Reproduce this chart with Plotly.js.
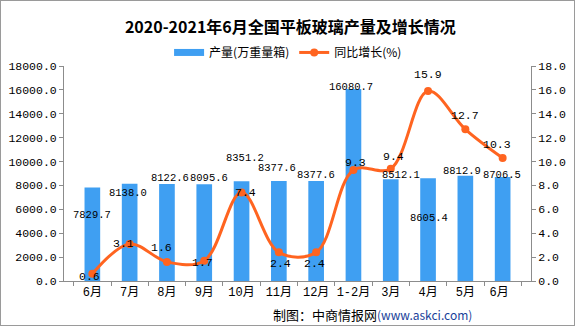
<!DOCTYPE html>
<html>
<head>
<meta charset="utf-8">
<script src="https://cdn.plot.ly/plotly-3.0.1.min.js"></script>
<style>
html,body{margin:0;padding:0;background:#fff;}
#wrap{position:relative;width:575px;height:326px;}
#chart{width:575px;height:326px;}
#frame{position:absolute;left:0;top:0;width:575px;height:326px;box-sizing:border-box;border:1px solid #9a9a9a;pointer-events:none;}
</style>
</head>
<body>
<div id="wrap"><div id="chart"></div><div id="frame"></div></div>
<script>
// ---- data ----
const categories = ["6月","7月","8月","9月","10月","11月","12月","1-2月","3月","4月","5月","6月 "];
const output = [7829.7, 8138.0, 8122.6, 8095.6, 8351.2, 8377.6, 8377.6, 16080.7, 8512.1, 8605.4, 8812.9, 8706.5];
const growth = [0.6, 3.1, 1.6, 1.7, 7.4, 2.4, 2.4, 9.3, 9.4, 15.9, 12.7, 10.3];
const seriesNames = ["产量(万重量箱)", "同比增长(%)"];
const leftTicks = [0,2000,4000,6000,8000,10000,12000,14000,16000,18000];
const rightTicks = [0,2,4,6,8,10,12,14,16,18];

// ---- label offsets (style only, px) ----
const barLblDx = [0,-2,3,5,3,-2,0,-2,10,1,-3,-1];
const barLblDy = [-28,-9,6,6,23,13,6,2,4,-40,5,2];
const lineLblDx = [-3,-6,-5,-2,4,2,-2,2,3,0,0,-6];
const lineLblDy = [-3,0,14,-2,0,-11,-11,7,12,17,14,13];

const blue = "#3f9ff2";
const orange = "#ff6420";
const monoFont = "Liberation Mono, DejaVu Sans Mono, monospace";

const traces = [
  {type:"bar", x:categories, y:output, name:seriesNames[0], marker:{color:blue}, showlegend:false, hoverinfo:"none"},
  {type:"scatter", mode:"lines", x:[null], y:[null], name:seriesNames[0], line:{color:blue, width:7}, showlegend:true, hoverinfo:"none"},
  {type:"scatter", mode:"lines+markers", x:categories, y:growth, yaxis:"y2", name:seriesNames[1],
   line:{color:orange, width:3, shape:"spline", smoothing:1}, marker:{color:orange, size:8}, hoverinfo:"none"}
];

const annotations = [];
categories.forEach((c,i)=>{
  annotations.push({x:c, y:output[i], xref:"x", yref:"y", text:output[i].toFixed(1), showarrow:false,
    xshift:barLblDx[i], yshift:barLblDy[i], font:{family:monoFont, size:10.5, color:"#000"}});
  annotations.push({x:c, y:growth[i], xref:"x", yref:"y2", text:growth[i].toFixed(1), showarrow:false,
    xshift:lineLblDx[i], yshift:lineLblDy[i], font:{family:monoFont, size:11.5, color:"#000"}});
});
annotations.push({xref:"paper", yref:"paper", x:0.877, y:-0.158, xanchor:"right", yanchor:"middle",
  text:'制图：中商情报网<span style="color:#1a3f9a;font-size:12px">(www.askci.com)</span>',
  showarrow:false, font:{family:"Noto Sans CJK SC, sans-serif", size:13, color:"#000"}});

const layout = {
  width:575, height:326,
  margin:{l:64, r:44, t:65.5, b:45, pad:0},
  paper_bgcolor:"#fff", plot_bgcolor:"#fff",
  title:{text:"<b>2020-2021年6月全国平板玻璃产量及增长情况</b>", x:0.505, xanchor:"center", y:0.917, yanchor:"middle",
    font:{family:"Noto Sans CJK SC, sans-serif", size:16, color:"#000"}},
  bargap:0.58,
  showlegend:true,
  legend:{orientation:"h", x:0.225, xanchor:"left", y:1.063, yanchor:"middle", bgcolor:"rgba(0,0,0,0)",
    font:{family:"Noto Sans CJK SC, sans-serif", size:12, color:"#000"}, itemwidth:30, tracegroupgap:0},
  xaxis:{type:"category", showline:true, linecolor:"#8c8c8c", linewidth:1, ticks:"outside", tickson:"boundaries",
    ticklen:4, tickcolor:"#8c8c8c", showgrid:false, zeroline:false, tickangle:0,
    tickfont:{family:"Liberation Mono, Noto Sans CJK SC, monospace", size:12, color:"#000"}},
  yaxis:{range:[0,18000], tickvals:leftTicks, tickformat:".1f", showline:true, linecolor:"#8c8c8c", linewidth:1,
    ticks:"outside", ticklen:4, tickcolor:"#8c8c8c", showgrid:false, zeroline:false,
    tickfont:{family:monoFont, size:11.5, color:"#000"}},
  yaxis2:{range:[0,18], tickvals:rightTicks, tickformat:".1f", overlaying:"y", side:"right", showline:true,
    linecolor:"#8c8c8c", linewidth:1, ticks:"outside", ticklen:4, tickcolor:"#8c8c8c", showgrid:false, zeroline:false,
    tickfont:{family:monoFont, size:11.5, color:"#000"}},
  annotations:annotations
};

Plotly.newPlot("chart", traces, layout, {displayModeBar:false, staticPlot:true});
</script>
</body>
</html>
